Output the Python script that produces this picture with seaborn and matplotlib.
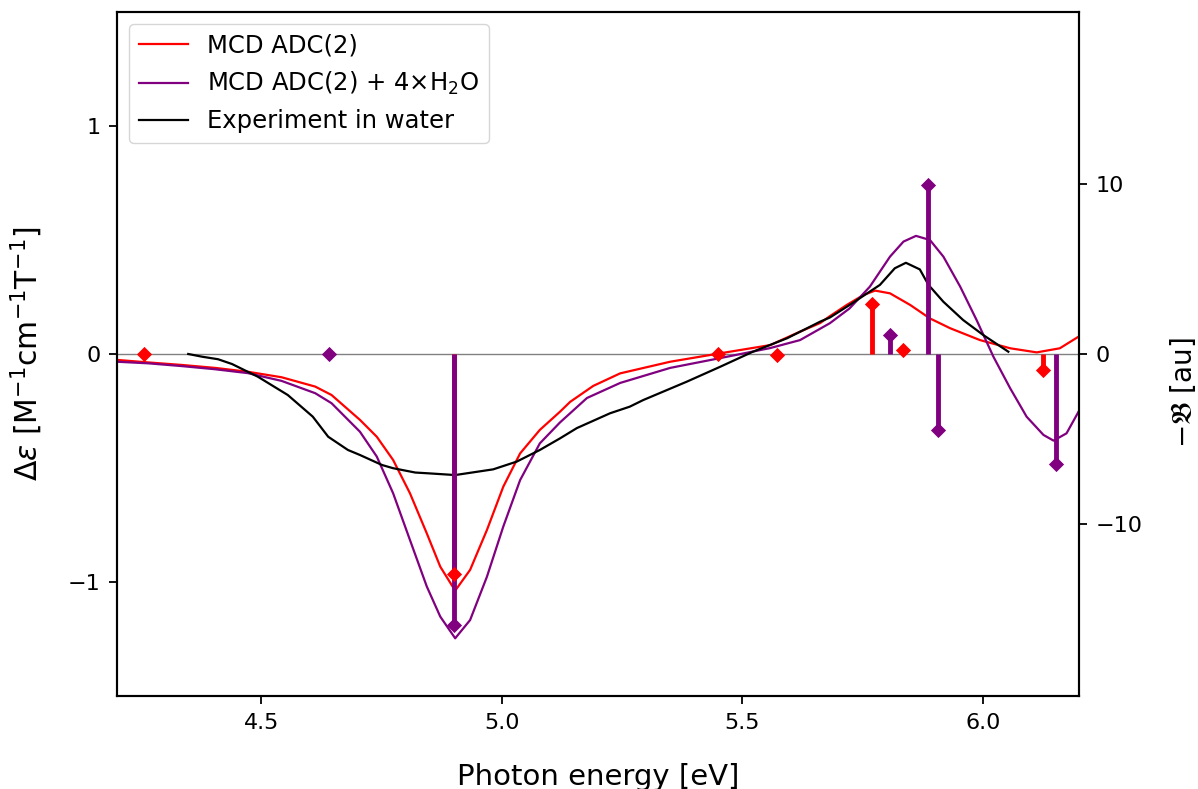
import numpy as np
import matplotlib
matplotlib.use("Agg")
import matplotlib.pyplot as plt
import seaborn as sns

# ---- data ----
adc2_x = [4.200, 4.265, 4.334, 4.404, 4.472, 4.542, 4.612, 4.646, 4.705, 4.740, 4.774, 4.809,
          4.844, 4.872, 4.903, 4.934, 4.969, 5.003, 5.038, 5.079, 5.121, 5.142, 5.190, 5.246,
          5.350, 5.454, 5.558, 5.620, 5.662, 5.682, 5.717, 5.752, 5.776, 5.807, 5.849, 5.890,
          5.932, 5.994, 6.057, 6.112, 6.160, 6.199]
adc2_y = [-0.026, -0.037, -0.048, -0.061, -0.078, -0.102, -0.143, -0.180, -0.289, -0.363, -0.465, -0.611,
          -0.787, -0.933, -1.038, -0.947, -0.772, -0.582, -0.436, -0.333, -0.253, -0.210, -0.140, -0.085,
          -0.034, 0.003, 0.039, 0.098, 0.136, 0.166, 0.215, 0.259, 0.278, 0.266, 0.215, 0.156,
          0.113, 0.061, 0.025, 0.007, 0.025, 0.076]

water_x = [4.200, 4.265, 4.334, 4.404, 4.472, 4.542, 4.612, 4.646, 4.705, 4.740, 4.774, 4.809,
           4.844, 4.872, 4.903, 4.934, 4.969, 5.003, 5.038, 5.079, 5.121, 5.177, 5.246, 5.350,
           5.454, 5.558, 5.620, 5.682, 5.723, 5.765, 5.807, 5.835, 5.861, 5.890, 5.918, 5.953,
           5.987, 6.022, 6.057, 6.091, 6.126, 6.147, 6.174, 6.199]
water_y = [-0.034, -0.041, -0.053, -0.067, -0.084, -0.118, -0.172, -0.216, -0.341, -0.450, -0.611, -0.816,
           -1.020, -1.152, -1.247, -1.167, -0.977, -0.757, -0.553, -0.392, -0.300, -0.193, -0.127, -0.061,
           -0.018, 0.026, 0.061, 0.135, 0.200, 0.295, 0.427, 0.493, 0.518, 0.500, 0.427, 0.295,
           0.149, -0.012, -0.151, -0.275, -0.355, -0.380, -0.348, -0.253]

exp_x = [4.348, 4.377, 4.410, 4.439, 4.493, 4.555, 4.607, 4.639, 4.680, 4.705, 4.751, 4.774,
         4.820, 4.844, 4.903, 4.982, 5.031, 5.079, 5.121, 5.156, 5.225, 5.266, 5.294, 5.385,
         5.454, 5.522, 5.593, 5.662, 5.682, 5.723, 5.786, 5.817, 5.840, 5.869, 5.887, 5.918,
         5.959, 6.001, 6.053]
exp_y = [0.000, -0.012, -0.023, -0.044, -0.100, -0.180, -0.275, -0.363, -0.421, -0.443, -0.487, -0.501,
         -0.520, -0.523, -0.531, -0.506, -0.472, -0.421, -0.370, -0.325, -0.260, -0.231, -0.202, -0.121,
         -0.056, 0.010, 0.069, 0.142, 0.160, 0.215, 0.303, 0.376, 0.400, 0.371, 0.303, 0.229,
         0.149, 0.083, 0.010]

stick_adc2_x = [4.256, 4.900, 5.449, 5.572, 5.769, 5.833, 6.126]
stick_adc2_y = [0.0, -12.96, 0.0, -0.05, 2.94, 0.24, -0.94]
stick_water_x = [4.641, 4.900, 5.808, 5.885, 5.906, 6.152]
stick_water_y = [0.0, -15.94, 1.12, 9.94, -4.47, -6.45]

labels = ["MCD ADC(2)", "MCD ADC(2) + 4$\\times$H$_2$O", "Experiment in water"]
colors = ["red", "purple", "black"]

# ---- figure ----
fig = plt.figure(figsize=(11.98, 7.89), dpi=100)
ax = fig.add_axes([0.0977, 0.1179, 0.9007 - 0.0977, 0.9848 - 0.1179])

ax.axhline(0, color="gray", lw=1)
for xs, ys, lab, c in zip([adc2_x, water_x, exp_x], [adc2_y, water_y, exp_y], labels, colors):
    sns.lineplot(x=xs, y=ys, ax=ax, color=c, lw=1.6, label=lab, sort=False)

ax.set_xlim(4.2, 6.2)
ax.set_ylim(-1.5, 1.5)
ax.set_xticks([4.5, 5.0, 5.5, 6.0])
ax.set_yticks([-1, 0, 1])
ax.set_xlabel("Photon energy [eV]", fontsize=21, labelpad=22)
ax.set_ylabel("$\\Delta\\varepsilon$ [M$^{-1}$cm$^{-1}$T$^{-1}$]", fontsize=21.5, labelpad=16)
ax.legend(loc="upper left", fontsize=17.5, handlelength=2.0)

ax2 = ax.twinx()
ax2.vlines(stick_adc2_x, 0, stick_adc2_y, color="red", lw=3.5)
ax2.vlines(stick_water_x, 0, stick_water_y, color="purple", lw=3.5)
sns.scatterplot(x=stick_water_x, y=stick_water_y, ax=ax2, color="purple", marker="D", s=60,
                linewidth=0, zorder=3)
sns.scatterplot(x=stick_adc2_x, y=stick_adc2_y, ax=ax2, color="red", marker="D", s=60,
                linewidth=0, zorder=4)
ax2.set_ylim(-20.12, 20.12)
ax2.set_yticks([-10, 0, 10])
ax2.set_ylabel("$-\\mathfrak{B}$ [au]", fontsize=20)
ax2.yaxis.set_label_coords(1.0925, 0.444)

for a in (ax, ax2):
    a.tick_params(labelsize=16, length=6, width=1.3, pad=6)
    for s in a.spines.values():
        s.set_linewidth(1.5)

fig.savefig("out.png", dpi=100)
